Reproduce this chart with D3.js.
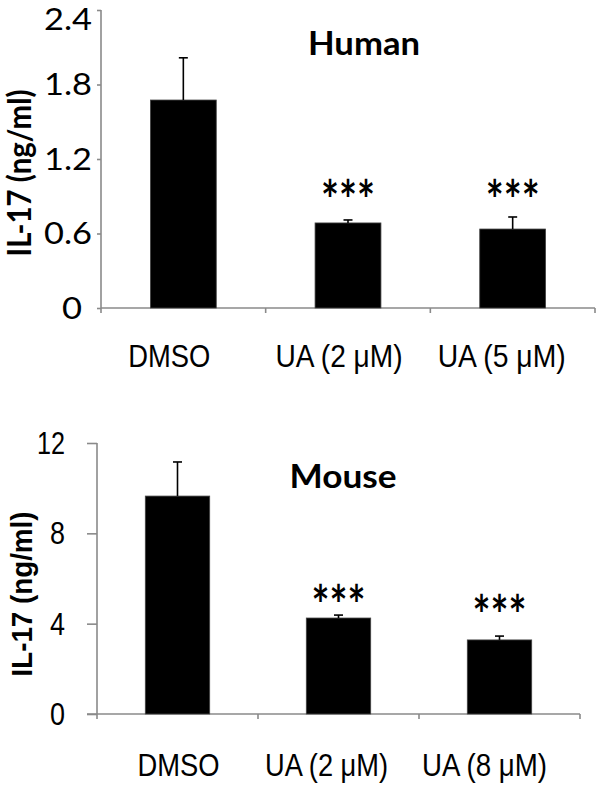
<!DOCTYPE html>
<html>
<head>
<meta charset="utf-8">
<script src="https://cdn.jsdelivr.net/npm/d3@7"></script>
<style>
  html, body { margin: 0; padding: 0; background: #fff; }
  svg { display: block; }
</style>
</head>
<body>
<svg id="chart" width="600" height="785"></svg>
<script>
// ---------------- data ----------------
const humanCategories = ["DMSO", "UA (2 \u03BCM)", "UA (5 \u03BCM)"];
const humanValues = [1.675, 0.685, 0.636];
const humanErrors = [0.34, 0.024, 0.097];
const humanTicks = [0, 0.6, 1.2, 1.8, 2.4];
const humanTickLabels = ["0", "0.6", "1.2", "1.8", "2.4"];
const humanSignificance = ["", "***", "***"];

const mouseCategories = ["DMSO", "UA (2 \u03BCM)", "UA (8 \u03BCM)"];
const mouseValues = [9.65, 4.25, 3.28];
const mouseErrors = [1.51, 0.13, 0.17];
const mouseTicks = [0, 4, 8, 12];
const mouseTickLabels = ["0", "4", "8", "12"];
const mouseSignificance = ["", "***", "***"];

const yLabel = "IL-17 (ng/ml)";

// ---------------- layout ----------------
const svg = d3.select("#chart");
const axisColor = "#8a8a8a";

const panels = [
  {
    title: "Human", cats: humanCategories, vals: humanValues, errs: humanErrors,
    ticks: humanTicks, tickLabels: humanTickLabels, sig: humanSignificance,
    yMax: 2.4, x0: 101, x1: 595, yTop: 10, yBottom: 308,
    tickLen: 4, tickDown: 5, tickLabelX: 92, tickFont: "Lato, 'Open Sans', sans-serif", tickSize: 30,
    tickLabelWidth: [20, 48, 48, 48, 48], tickLabelDx: [-10, 0, 0, 0, 0], minLabelCenter: 19,
    catFont: "'Liberation Sans Narrow', 'Arial Narrow', 'Liberation Sans', sans-serif",
    catSize: 32, catY: 367, catDx: [-14, -9, -11], catWidth: [82, 127, 128],
    titleX: 364, titleY: 55, titleWidth: 112,
    starOffset: [0, 31, 28],
    yLabelFont: "Lato, sans-serif", yLabelSize: 32, yLabelX: 31, yLabelY: 173, yLabelLen: 167
  },
  {
    title: "Mouse", cats: mouseCategories, vals: mouseValues, errs: mouseErrors,
    ticks: mouseTicks, tickLabels: mouseTickLabels, sig: mouseSignificance,
    yMax: 12, x0: 97, x1: 580, yTop: 443, yBottom: 714,
    tickLen: 10, tickDown: 5, tickLabelX: 65, tickFont: "'Liberation Sans Narrow', 'Arial Narrow', 'Liberation Sans', sans-serif", tickSize: 31,
    tickLabelWidth: [15, 15, 15, 28], tickLabelDx: [0, 0, 0, 0], minLabelCenter: 0,
    catFont: "'Liberation Sans Narrow', 'Arial Narrow', 'Liberation Sans', sans-serif",
    catSize: 32, catY: 776, catDx: [1, -12, -15], catWidth: [82, 123, 125],
    titleX: 343, titleY: 488, titleWidth: 107,
    starOffset: [0, 21, 32],
    yLabelFont: "'Liberation Sans', Arial, sans-serif", yLabelSize: 29, yLabelX: 32, yLabelY: 594, yLabelLen: 165
  }
];

const starSize = 54;

panels.forEach(p => {
  const g = svg.append("g");
  const x = d3.scaleBand().domain(p.cats).range([p.x0, p.x1])
    .paddingInner(0.6).paddingOuter(0.3);
  const y = d3.scaleLinear().domain([0, p.yMax]).range([p.yBottom, p.yTop]);

  // y axis
  const yAxis = d3.axisLeft(y).tickValues(p.ticks).tickSize(p.tickLen).tickFormat("");
  const ya = g.append("g").attr("transform", `translate(${p.x0},0)`).call(yAxis);
  ya.selectAll("path, line").attr("stroke", axisColor).attr("stroke-width", 1.6);
  ya.select(".domain").attr("d", `M-0,${p.yTop}V${p.yBottom}`);

  // y tick labels
  g.selectAll(".ytl").data(p.ticks).enter().append("text")
    .attr("x", (d, i) => p.tickLabelX + p.tickLabelDx[i])
    .attr("y", d => Math.max(y(d), p.minLabelCenter))
    .attr("dy", "0.36em")
    .attr("text-anchor", "end")
    .attr("font-family", p.tickFont)
    .attr("font-size", p.tickSize)
    .attr("fill", "#000")
    .attr("textLength", (d, i) => p.tickLabelWidth[i])
    .attr("lengthAdjust", "spacingAndGlyphs")
    .text((d, i) => p.tickLabels[i]);

  // x axis line with category-boundary ticks
  const step = x.step();
  const bounds = d3.range(p.cats.length + 1).map(i => p.x0 + i * step);
  g.append("line")
    .attr("x1", p.x0 - (p.tickLen > 5 ? p.tickLen : 0)).attr("x2", p.x1)
    .attr("y1", p.yBottom).attr("y2", p.yBottom)
    .attr("stroke", axisColor).attr("stroke-width", 1.6);
  g.selectAll(".xt").data(bounds).enter().append("line")
    .attr("x1", d => d).attr("x2", d => d)
    .attr("y1", p.yBottom).attr("y2", p.yBottom + p.tickDown)
    .attr("stroke", axisColor).attr("stroke-width", 1.6);

  // bars
  g.selectAll(".bar").data(p.vals).enter().append("rect")
    .attr("x", (d, i) => x(p.cats[i]))
    .attr("width", x.bandwidth())
    .attr("y", d => y(d))
    .attr("height", d => y(0) - y(d))
    .attr("fill", "#000")
    .attr("stroke", "#444").attr("stroke-width", 0.8);

  // error bars (upper only)
  p.vals.forEach((v, i) => {
    const cx = x(p.cats[i]) + x.bandwidth() / 2;
    const top = y(v + p.errs[i]);
    g.append("line").attr("x1", cx).attr("x2", cx)
      .attr("y1", y(v)).attr("y2", top)
      .attr("stroke", "#000").attr("stroke-width", 1.6);
    g.append("line").attr("x1", cx - 4.5).attr("x2", cx + 4.5)
      .attr("y1", top).attr("y2", top)
      .attr("stroke", "#000").attr("stroke-width", 1.6);
    if (p.sig[i]) {
      const cy = top - p.starOffset[i];
      g.append("text")
        .attr("x", cx).attr("y", cy + 0.56 * starSize)
        .attr("text-anchor", "middle")
        .attr("font-family", "Lato, sans-serif")
        .attr("font-weight", "bold")
        .attr("font-size", starSize)
        .attr("textLength", 54)
        .attr("lengthAdjust", "spacingAndGlyphs")
        .attr("fill", "#000")
        .text(p.sig[i]);
    }
  });

  // category labels
  g.selectAll(".cat").data(p.cats).enter().append("text")
    .attr("x", (d, i) => x(d) + x.bandwidth() / 2 + p.catDx[i])
    .attr("y", p.catY)
    .attr("text-anchor", "middle")
    .attr("font-family", p.catFont)
    .attr("font-size", p.catSize)
    .attr("textLength", (d, i) => p.catWidth[i])
    .attr("lengthAdjust", "spacingAndGlyphs")
    .attr("fill", "#000")
    .text(d => d);

  // title
  g.append("text")
    .attr("x", p.titleX).attr("y", p.titleY)
    .attr("text-anchor", "middle")
    .attr("font-family", "Lato, sans-serif")
    .attr("font-weight", "bold")
    .attr("font-size", 32)
    .attr("textLength", p.titleWidth)
    .attr("lengthAdjust", "spacingAndGlyphs")
    .attr("fill", "#000")
    .text(p.title);

  // y label
  g.append("text")
    .attr("transform", `translate(${p.yLabelX},${p.yLabelY}) rotate(-90)`)
    .attr("text-anchor", "middle")
    .attr("font-family", p.yLabelFont)
    .attr("font-weight", "bold")
    .attr("font-size", p.yLabelSize)
    .attr("textLength", p.yLabelLen)
    .attr("lengthAdjust", "spacingAndGlyphs")
    .attr("fill", "#000")
    .text(yLabel);
});
</script>
</body>
</html>
